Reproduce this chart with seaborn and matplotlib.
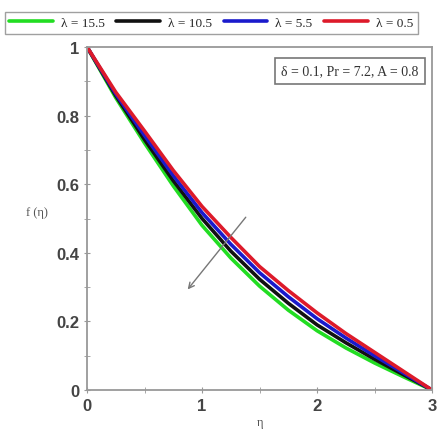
import numpy as np
import pandas as pd
import matplotlib
matplotlib.use("Agg")
import matplotlib.pyplot as plt
import seaborn as sns

eta = [0.0, 0.25, 0.5, 0.75, 1.0, 1.25, 1.5, 1.75, 2.0, 2.25, 2.5, 2.75, 3.0]
f_15_5 = [1.0, 0.852, 0.72, 0.595, 0.48, 0.385, 0.303, 0.233, 0.173, 0.123, 0.079, 0.039, 0.0]
f_10_5 = [1.0, 0.858, 0.73, 0.61, 0.50, 0.405, 0.323, 0.253, 0.19, 0.138, 0.09, 0.045, 0.0]
f_5_5 = [1.0, 0.863, 0.742, 0.625, 0.517, 0.425, 0.342, 0.272, 0.208, 0.152, 0.10, 0.05, 0.0]
f_0_5 = [1.0, 0.868, 0.755, 0.64, 0.535, 0.445, 0.36, 0.29, 0.225, 0.165, 0.11, 0.055, 0.0]

labels = ["λ = 15.5", "λ = 10.5", "λ = 5.5", "λ = 0.5"]
colors = ["#22dd22", "#111111", "#1a1acc", "#dd1a2a"]

df = pd.concat([
    pd.DataFrame({"eta": eta, "f": vals, "lam": lab})
    for vals, lab in zip([f_15_5, f_10_5, f_5_5, f_0_5], labels)
])

sns.set_style("white")
fig = plt.figure(figsize=(4.37, 4.39), dpi=100)
ax = fig.add_axes([0.199, 0.109, 0.79, 0.782])

sns.lineplot(data=df, x="eta", y="f", hue="lam", palette=colors,
             hue_order=labels, linewidth=2.6, ax=ax, legend=False, sort=False)

ax.set_xlim(0, 3.0)
ax.set_ylim(0, 1.0)
for s in ax.spines.values():
    s.set_color("#999999")
    s.set_linewidth(1.3)

ax.set_xticks([0, 1, 2, 3])
ax.set_xticklabels(["0", "1", "2", "3"])
ax.set_yticks([0, 0.2, 0.4, 0.6, 0.8, 1.0])
ax.set_yticklabels(["0", "0.2", "0.4", "0.6", "0.8", "1"])
ax.set_xticks([0.5, 1.5, 2.5], minor=True)
ax.set_yticks([0.1, 0.3, 0.5, 0.7, 0.9], minor=True)
ax.tick_params(which="both", direction="inout", length=4, color="#999999",
               left=True, bottom=True)
for lbl in ax.get_xticklabels() + ax.get_yticklabels():
    lbl.set_fontfamily("Liberation Sans")
    lbl.set_fontweight("bold")
    lbl.set_fontsize(12)
    lbl.set_color("#444444")

ax.set_xlabel("η", family="Liberation Serif", fontsize=9, color="#555555", labelpad=2)
ax.set_ylabel("f (η)", family="Liberation Serif", fontsize=9, color="#555555",
              rotation=0, labelpad=14)

# annotation box
ax.text(0.96, 0.93, "δ = 0.1, Pr = 7.2, A = 0.8", transform=ax.transAxes,
        ha="right", va="center", family="Liberation Serif", fontsize=10, color="#333333",
        bbox=dict(boxstyle="square,pad=0.45", fc="white", ec="#777777", lw=1.2))

# arrow showing increasing lambda
ax.annotate("", xy=(0.86, 0.287), xytext=(1.395, 0.51),
            arrowprops=dict(arrowstyle="->", color="#777777", lw=1.0))

# legend across the top
handles = [plt.Line2D([], [], color=c, lw=2.6) for c in colors]
fig.legend(handles, labels, loc="upper center", bbox_to_anchor=(0.483, 0.985),
           ncol=4, frameon=True, fancybox=False, edgecolor="#888888",
           prop={"family": "Liberation Serif", "size": 9.5}, handlelength=3.3,
           columnspacing=0.9, handletextpad=0.6, borderpad=0.35)

fig.savefig("out.png", dpi=100)
